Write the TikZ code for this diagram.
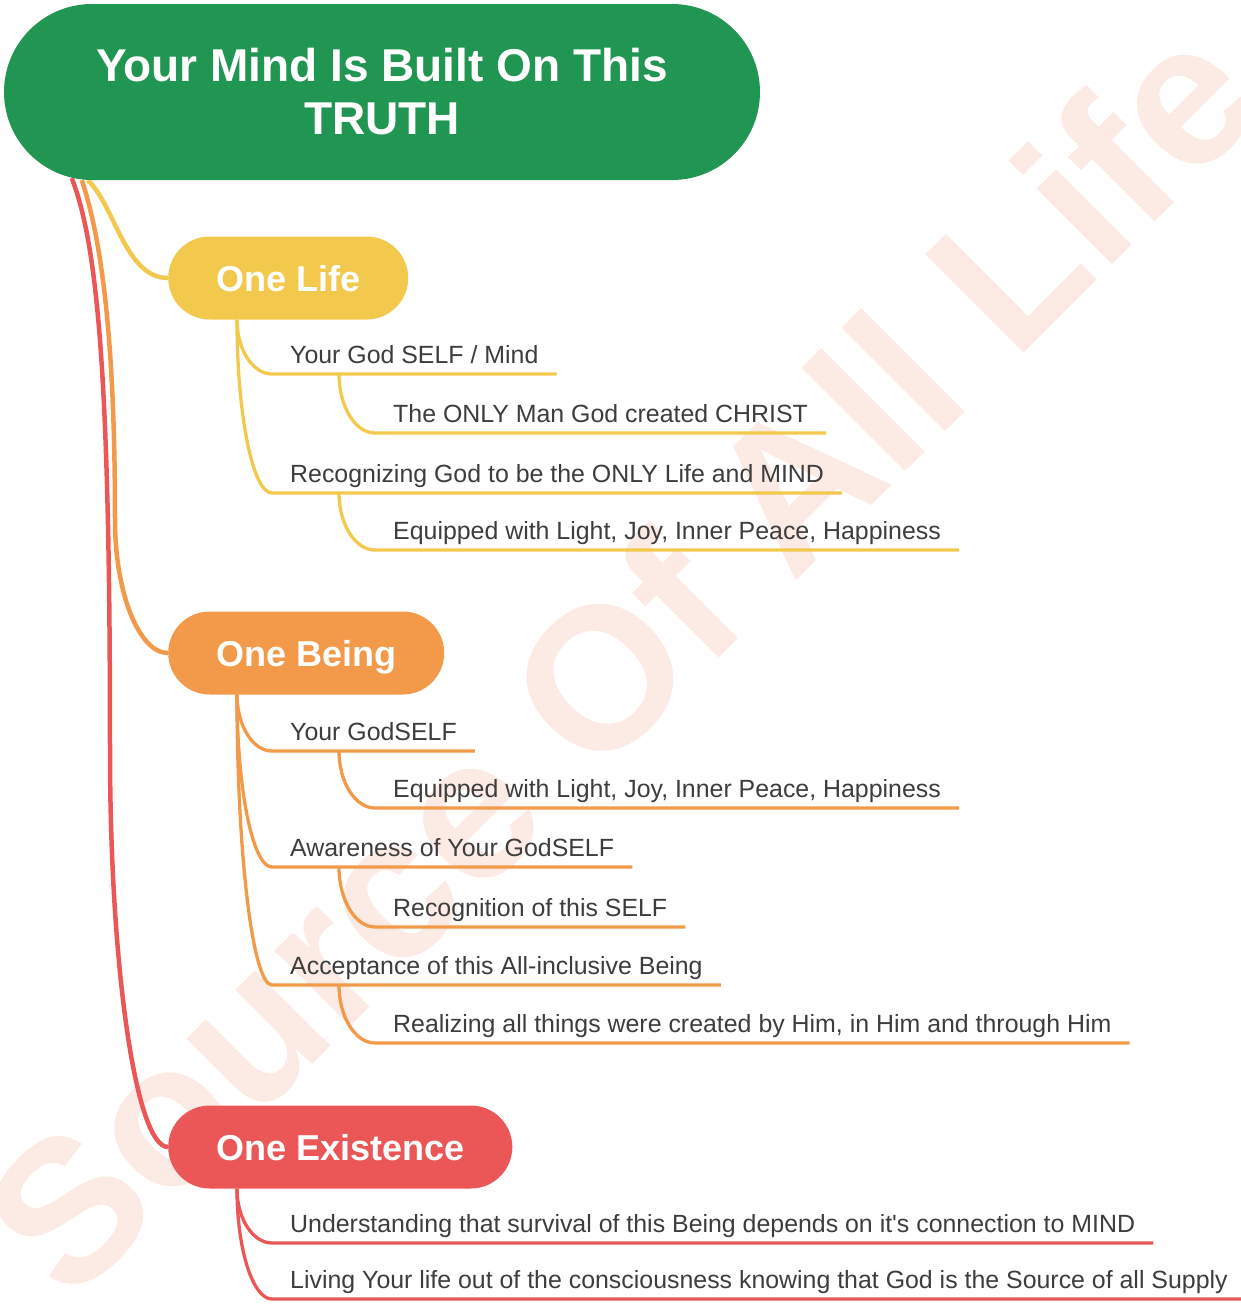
\documentclass[tikz,border=0pt]{standalone}
\usepackage{fontspec}
\setmainfont{Liberation Sans}
\usepackage{xcolor}
\usetikzlibrary{positioning,calc,backgrounds}

\definecolor{rootgreen}{HTML}{219653}
\definecolor{lifeyellow}{HTML}{F2C94C}
\definecolor{beingorange}{HTML}{F2994A}
\definecolor{existred}{HTML}{EB5757}
\definecolor{leaftext}{HTML}{3D3D3D}
\definecolor{wmarkpeach}{HTML}{FCEBE4}

% colour, parent node, offset along its bottom, child node
\newcommand{\twig}[4]{%
  \coordinate (tw) at ([xshift=#3]#2.south west);
  \draw[twigline,#1] (tw) .. controls ($(tw)!.55!(tw |- #4.south west)$) and ($(#4.south west)!.55!(tw |- #4.south west)$) .. (#4.south west) -- (#4.south east);}

\begin{document}
\begin{tikzpicture}[x=1pt,y=-1pt,
    root/.style={fill=rootgreen,rounded corners=88pt,minimum width=756pt,minimum height=176pt,align=center,text=white,font=\bfseries\fontsize{46}{53}\selectfont},
    topic/.style={anchor=west,rounded corners=41.5pt,minimum height=83pt,inner xsep=48pt,text height=26pt,text depth=0pt,text=white,font=\bfseries\fontsize{36}{40}\selectfont},
    leaf/.style={anchor=south west,inner xsep=18pt,inner ysep=4pt,text height=18pt,text depth=6pt,text=leaftext,font=\fontsize{24.9}{28}\selectfont},
    branch/.style={line width=4.5pt},
    twigline/.style={line width=3.3pt},
    wmark/.style={rotate=45,anchor=base west,text=wmarkpeach,font=\bfseries\fontsize{202}{202}\selectfont}
  ]
    \useasboundingbox (0,0) rectangle (1240,1304);
    \clip (0,0) rectangle (1240,1304);

    \node[root] (root) at (382,92) {Your Mind Is Built On This\\TRUTH};

    \node[topic,fill=lifeyellow] (life) at (168,278) {One Life};
    \node[topic,fill=beingorange] (being) at (168,653) {One Being};
    \node[topic,fill=existred] (exist) at (168,1147) {One Existence};

    % One Life
    \node[leaf] (life1) at (272,374) {Your God SELF / Mind};
    \node[leaf] (life11) at (375,433) {The ONLY Man God created CHRIST};
    \node[leaf] (life2) at (272,493) {Recognizing God to be the ONLY Life and MIND};
    \node[leaf] (life21) at (375,550) {Equipped with Light, Joy, Inner Peace, Happiness};

    % One Being
    \node[leaf] (being1) at (272,751) {Your GodSELF};
    \node[leaf] (being11) at (375,808) {Equipped with Light, Joy, Inner Peace, Happiness};
    \node[leaf] (being2) at (272,867) {Awareness of Your GodSELF};
    \node[leaf] (being21) at (375,927) {Recognition of this SELF};
    \node[leaf] (being3) at (272,985) {Acceptance of this All-inclusive Being};
    \node[leaf] (being31) at (375,1043) {Realizing all things were created by Him, in Him and through Him};

    % One Existence
    \node[leaf] (exist1) at (272,1243) {Understanding that survival of this Being depends on it\textquotesingle s connection to MIND};
    \node[leaf] (exist2) at (272,1299) {Living Your life out of the consciousness knowing that God is the Source of all Supply};

    \begin{scope}[on background layer]
      \node[wmark] (wm) at (68,1309) {Source Of All Life};

      \draw[branch,existred] ([xshift=68pt,yshift=2pt]root.south west) .. controls +(28,72) and +(0,-350) .. (110,750) .. controls +(0,218) and +(-32,0) .. (exist.west);
      \draw[branch,beingorange] ([xshift=78pt]root.south west) .. controls +(20,60) and +(0,-180) .. (115,520) .. controls +(0,73) and +(-29,0) .. (being.west);
      \draw[branch,lifeyellow] ([xshift=84pt]root.south west) .. controls +(27,25) and +(-43,0) .. (life.west);

      \twig{lifeyellow}{life}{69pt}{life1}
      \twig{lifeyellow}{life1}{67pt}{life11}
      \twig{lifeyellow}{life}{69pt}{life2}
      \twig{lifeyellow}{life2}{67pt}{life21}

      \twig{beingorange}{being}{69pt}{being1}
      \twig{beingorange}{being1}{67pt}{being11}
      \twig{beingorange}{being}{69pt}{being2}
      \twig{beingorange}{being2}{67pt}{being21}
      \twig{beingorange}{being}{69pt}{being3}
      \twig{beingorange}{being3}{67pt}{being31}

      \twig{existred}{exist}{69pt}{exist1}
      \twig{existred}{exist}{69pt}{exist2}
    \end{scope}
  \end{tikzpicture}
\end{document}
